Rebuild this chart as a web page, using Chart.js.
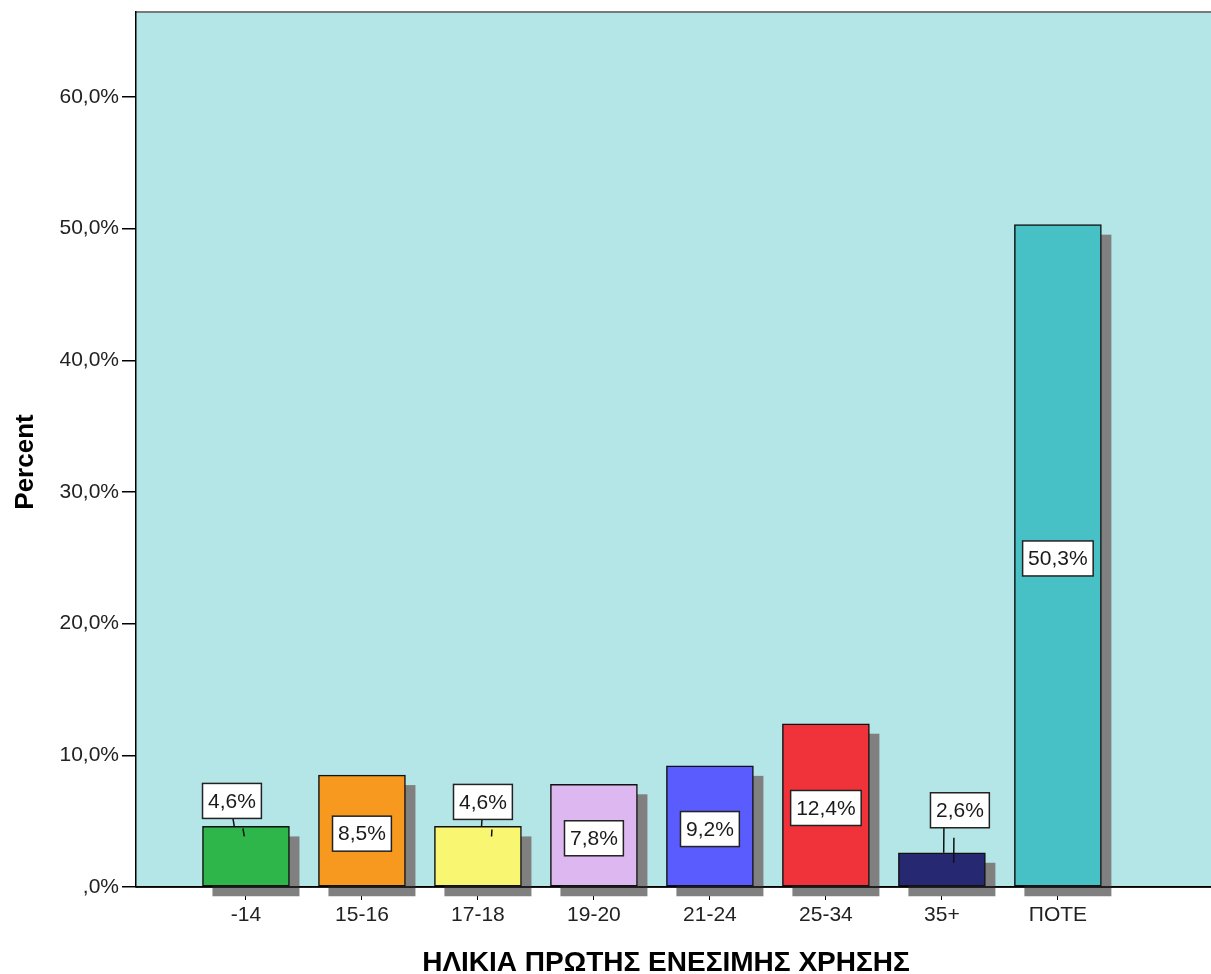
<!DOCTYPE html>
<html>
<head>
<meta charset="utf-8">
<script src="https://cdn.jsdelivr.net/npm/chart.js@4/dist/chart.umd.min.js"></script>
<style>
  html, body { margin: 0; padding: 0; background: #fff; }
  #wrap { width: 1211px; height: 974px; position: relative; }
</style>
</head>
<body>
<div id="wrap"><canvas id="chart"></canvas></div>
<script>
// categories and values
var categories = ['-14', '15-16', '17-18', '19-20', '21-24', '25-34', '35+', 'ΠΟΤΕ'];
var percents = [4.6, 8.5, 4.6, 7.8, 9.2, 12.4, 2.6, 50.3];
var yTicks = [0, 10, 20, 30, 40, 50, 60];
var xTitle = 'ΗΛΙΚΙΑ ΠΡΩΤΗΣ ΕΝΕΣΙΜΗΣ ΧΡΗΣΗΣ';
var yTitle = 'Percent';

// styles
var barColors = ['#2fb64a', '#f7981f', '#f9f772', '#dcb7f0', '#5a5cfe', '#f0323b', '#262872', '#47c1c5'];
var labelAbove = [true, false, true, false, false, false, true, false];
var labelDx = [-14, 0, 5, 0, 0, 0, 18, 0];
var labelGap = [8, 0, 7, 0, 0, 0, 25, 0];
var leaderDx = [-13, 0, 4, 0, 0, 0, 2, 0];

var FONT = '"Liberation Sans", Arial, sans-serif';

function fmtPct(v) {
	var s = v.toFixed(1).replace('.', ',');
	if (s.indexOf('0,') === 0) s = s.substring(1);
	return s + '%';
}

var decorPlugin = {
	id: 'decor',
	beforeDraw: function(chart) {
		var ctx = chart.ctx, a = chart.chartArea;
		ctx.save();
		ctx.fillStyle = '#b4e6e7';
		ctx.fillRect(a.left, a.top, a.right - a.left, a.bottom - a.top);
		// top frame line
		ctx.strokeStyle = '#7a7a7a';
		ctx.lineWidth = 2;
		ctx.beginPath();
		ctx.moveTo(a.left, a.top);
		ctx.lineTo(a.right, a.top);
		ctx.stroke();
		ctx.restore();
	},
	beforeDatasetsDraw: function(chart) {
		// drop shadows behind the bars
		var ctx = chart.ctx;
		var meta = chart.getDatasetMeta(0);
		ctx.save();
		ctx.fillStyle = '#808080';
		meta.data.forEach(function(bar) {
			var p = bar.getProps(['x', 'y', 'base', 'width'], true);
			ctx.fillRect(p.x - p.width / 2 + 10, p.y + 10, p.width, p.base - p.y);
		});
		ctx.restore();
	},
	afterDatasetsDraw: function(chart) {
		var ctx = chart.ctx, a = chart.chartArea;
		var yScale = chart.scales.y;
		var y0 = yScale.getPixelForValue(0);
		var meta = chart.getDatasetMeta(0);

		ctx.save();
		// redraw the baseline over the shadows
		ctx.strokeStyle = '#000';
		ctx.lineWidth = 1.5;
		ctx.beginPath();
		ctx.moveTo(a.left, y0);
		ctx.lineTo(a.right, y0);
		ctx.stroke();

		// value labels
		ctx.font = '21px ' + FONT;
		ctx.textAlign = 'center';
		ctx.textBaseline = 'middle';
		meta.data.forEach(function(bar, i) {
			var p = bar.getProps(['x', 'y', 'base'], true);
			var text = fmtPct(percents[i]);
			var w = ctx.measureText(text).width + 11;
			var h = 35;
			var cx = p.x + labelDx[i];
			var cy;
			if (labelAbove[i]) {
				cy = p.y - labelGap[i] - h / 2;
				// leader line and its shadow
				var lx = p.x + leaderDx[i];
				ctx.strokeStyle = '#111';
				ctx.lineWidth = 1.5;
				ctx.beginPath();
				ctx.moveTo(lx, cy + h / 2);
				ctx.lineTo(lx + (p.x - lx) * 0.1, p.y);
				ctx.moveTo(lx + 10, cy + h / 2 + 10);
				ctx.lineTo(lx + 10 + (p.x - lx) * 0.1, p.y + 10);
				ctx.stroke();
			} else {
				cy = (p.y + p.base) / 2 + 3;
			}
			ctx.fillStyle = '#fff';
			ctx.fillRect(cx - w / 2, cy - h / 2, w, h);
			ctx.strokeStyle = '#222';
			ctx.lineWidth = 1.5;
			ctx.strokeRect(cx - w / 2, cy - h / 2, w, h);
			ctx.fillStyle = '#1a1a1a';
			ctx.fillText(text, cx, cy + 1);
		});

		// axis titles
		ctx.fillStyle = '#000';
		ctx.font = 'bold 28px ' + FONT;
		ctx.textAlign = 'center';
		ctx.textBaseline = 'alphabetic';
		ctx.fillText(xTitle, 666, 971);
		ctx.font = 'bold 26px ' + FONT;
		ctx.translate(33, 462);
		ctx.rotate(-Math.PI / 2);
		ctx.fillText(yTitle, 0, 0);
		ctx.restore();
	}
};

var ctx = document.getElementById('chart');
new Chart(ctx, {
	type: 'bar',
	data: {
		datasets: [{
			data: percents.map(function(v, i) { return { x: i, y: v }; }),
			backgroundColor: barColors,
			borderColor: '#111',
			borderWidth: 1.5,
			borderSkipped: false,
			barThickness: 87
		}]
	},
	options: {
		responsive: true,
		maintainAspectRatio: false,
		animation: false,
		layout: { padding: { top: 12, right: 0, left: 0, bottom: 0 } },
		plugins: {
			legend: { display: false },
			tooltip: { enabled: false }
		},
		scales: {
			x: {
				type: 'linear',
				offset: false,
				min: -0.948,
				max: 8.32,
				afterBuildTicks: function(scale) {
					scale.ticks = categories.map(function(c, i) { return { value: i }; });
				},
				afterFit: function(scale) {
					scale.height = 87;
					scale.paddingLeft = 0;
					scale.paddingRight = 0;
				},
				ticks: {
					autoSkip: false,
					maxRotation: 0,
					padding: 3,
					color: '#222',
					font: { size: 21, family: FONT },
					callback: function(v) { return categories[v]; }
				},
				grid: { offset: false, drawOnChartArea: false, tickLength: 13, color: '#000', lineWidth: 1 },
				border: { display: true, color: '#000', width: 1.5 }
			},
			y: {
				min: 0,
				max: 66.45,
				afterBuildTicks: function(scale) {
					scale.ticks = yTicks.map(function(v) { return { value: v }; });
				},
				afterFit: function(scale) {
					scale.width = 136;
					scale.paddingTop = 0;
					scale.paddingBottom = 0;
				},
				ticks: {
					padding: 3,
					color: '#222',
					font: { size: 21, family: FONT },
					callback: function(v) { return fmtPct(v); }
				},
				grid: { drawOnChartArea: false, tickLength: 14, color: '#000', lineWidth: 1.5 },
				border: { display: true, color: '#000', width: 1.5 }
			}
		}
	},
	plugins: [decorPlugin]
});
</script>
</body>
</html>
